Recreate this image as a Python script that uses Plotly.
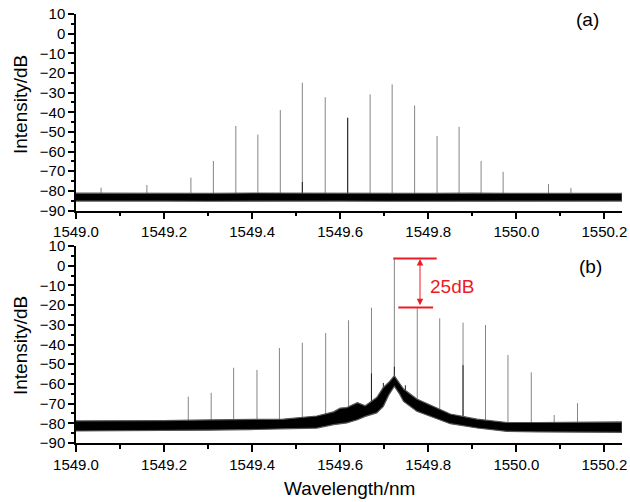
import numpy as np
import plotly.graph_objects as go

# ---------------- data ----------------
# Panel (a): comb lines
peak_wl_a = [1549.057, 1549.161, 1549.261, 1549.312, 1549.363, 1549.413, 1549.464,
             1549.514, 1549.566, 1549.617, 1549.668, 1549.718, 1549.769, 1549.820,
             1549.870, 1549.920, 1549.970, 1550.073, 1550.124]
peak_db_a = [-78.4, -77.0, -73.3, -64.8, -47.0, -51.4, -38.9,
             -25.0, -32.4, -42.8, -30.9, -25.8, -36.5, -52.1,
             -47.4, -64.8, -70.3, -76.5, -78.5]
dark_wl_a = [1549.514, 1549.617]
dark_db_a = [-75.5, -42.8]
# Panel (a): noise floor envelope
floor_wl_a = [1549.00, 1549.10, 1549.20, 1549.30, 1549.40, 1549.50, 1549.60,
              1549.70, 1549.80, 1549.90, 1550.00, 1550.10, 1550.24]
floor_up_a = [-81.2, -81.3, -81.2, -81.3, -81.1, -81.2, -81.1,
              -81.2, -81.3, -81.2, -81.3, -81.2, -81.3]
floor_lo_a = [-85.2, -85.3, -85.2, -85.3, -85.2, -85.3, -85.2,
              -85.3, -85.2, -85.3, -85.2, -85.3, -85.2]

# Panel (b): comb lines
peak_wl_b = [1549.255, 1549.307, 1549.358, 1549.411, 1549.462, 1549.514, 1549.567,
             1549.619, 1549.671, 1549.723, 1549.775, 1549.826, 1549.879, 1549.930,
             1549.981, 1550.034, 1550.086, 1550.139]
peak_db_b = [-66.5, -64.5, -51.8, -52.9, -41.8, -39.1, -34.2,
             -27.7, -21.3, 3.7, -21.6, -26.7, -28.9, -30.1,
             -45.3, -54.1, -75.8, -69.8]
dark_wl_b = [1549.671, 1549.698, 1549.723, 1549.748, 1549.879]
dark_db_b = [-54.7, -59.5, -51.3, -60.7, -50.5]
# Panel (b): noise floor with pedestal
floor_wl_b = [1549.00, 1549.10, 1549.20, 1549.30, 1549.395, 1549.471, 1549.547,
              1549.585, 1549.600, 1549.615, 1549.639, 1549.657, 1549.683, 1549.698,
              1549.710, 1549.723, 1549.735, 1549.744, 1549.774, 1549.790, 1549.805,
              1549.850, 1549.911, 1549.979, 1550.05, 1550.15, 1550.24]
floor_up_b = [-78.8, -78.8, -78.6, -78.3, -77.9, -77.9, -76.3,
              -74.2, -72.3, -72.0, -69.5, -71.1, -66.9, -61.8,
              -59.3, -55.9, -59.8, -62.6, -67.7, -69.3, -71.1,
              -75.3, -77.9, -79.6, -79.6, -79.6, -79.3]
floor_lo_b = [-83.9, -84.0, -83.7, -83.5, -83.2, -82.9, -82.4,
              -80.7, -80.3, -79.8, -78.2, -76.5, -74.7, -71.4,
              -65.7, -61.2, -65.2, -68.9, -73.9, -75.2, -76.5,
              -80.2, -82.4, -84.1, -84.4, -84.6, -84.6]

# annotation values (panel b)
top_level_db = 3.7
low_level_db = -21.2
top_line_wl = [1549.7206, 1549.8192]
low_line_wl = [1549.732, 1549.811]
arrow_wl = 1549.7813
diff_label = "25dB"

x_ticks = [1549.0, 1549.2, 1549.4, 1549.6, 1549.8, 1550.0, 1550.2]
x_tick_text = ["1549.0", "1549.2", "1549.4", "1549.6", "1549.8", "1550.0", "1550.2"]
y_ticks = [10, 0, -10, -20, -30, -40, -50, -60, -70, -80, -90]

# ---------------- figure ----------------
FONT = "Liberation Sans, Arial, sans-serif"
RED = "rgb(236,28,36)"
W, H = 630, 502


def stems(wls, dbs, fwl, flo):
    xs, ys = [], []
    for w, d in zip(wls, dbs):
        base = float(np.interp(w, fwl, flo)) + 1.0
        xs += [w, w, None]
        ys += [base, d, None]
    return xs, ys


fig = go.Figure()

for wl, db, dwl, ddb, fwl, fup, flo, xa, ya in [
    (peak_wl_a, peak_db_a, dark_wl_a, dark_db_a, floor_wl_a, floor_up_a, floor_lo_a, "x", "y"),
    (peak_wl_b, peak_db_b, dark_wl_b, dark_db_b, floor_wl_b, floor_up_b, floor_lo_b, "x2", "y2"),
]:
    sx, sy = stems(wl, db, fwl, flo)
    fig.add_trace(go.Scatter(x=sx, y=sy, mode="lines", xaxis=xa, yaxis=ya,
                             line=dict(color="#858585", width=1), hoverinfo="skip",
                             showlegend=False))
    dx, dy = stems(dwl, ddb, fwl, flo)
    fig.add_trace(go.Scatter(x=dx, y=dy, mode="lines", xaxis=xa, yaxis=ya,
                             line=dict(color="#202020", width=1), hoverinfo="skip",
                             showlegend=False))
    fig.add_trace(go.Scatter(x=fwl + fwl[::-1], y=fup + flo[::-1], mode="lines",
                             fill="toself", fillcolor="#000000", xaxis=xa, yaxis=ya,
                             line=dict(color="#555555", width=1.2), hoverinfo="skip",
                             showlegend=False))

x_dom = [76 / W, 622 / W]
xcommon = dict(range=[1549.0, 1550.24], tickmode="array", tickvals=x_ticks,
               ticktext=x_tick_text, ticks="outside", ticklen=7, tickwidth=1.5,
               tickcolor="black", showline=True, linewidth=1.5, linecolor="black",
               showgrid=False, zeroline=False, automargin=False,
               tickfont=dict(family=FONT, size=15, color="black"),
               minor=dict(ticks="outside", ticklen=4, tickwidth=1.5, tickcolor="black",
                          tick0=1549.0, dtick=0.1, showgrid=False))
ycommon = dict(range=[-90, 10], tickmode="array", tickvals=y_ticks,
               ticks="outside", ticklen=6, tickwidth=1.5, tickcolor="black",
               showline=True, linewidth=1.5, linecolor="black", showgrid=False,
               zeroline=False, automargin=False,
               tickfont=dict(family=FONT, size=15, color="black"),
               minor=dict(ticks="outside", ticklen=3.5, tickwidth=1.5, tickcolor="black",
                          tick0=-90, dtick=5, showgrid=False))

fig.update_layout(
    width=W, height=H, margin=dict(l=0, r=0, t=0, b=0), autosize=False,
    paper_bgcolor="white", plot_bgcolor="white", template="none",
    showlegend=False,
    xaxis=dict(domain=x_dom, anchor="y", **xcommon),
    xaxis2=dict(domain=x_dom, anchor="y2", **xcommon),
    yaxis=dict(domain=[(H - 210.5) / H, (H - 14) / H], anchor="x", **ycommon),
    yaxis2=dict(domain=[(H - 443) / H, (H - 246) / H], anchor="x2", **ycommon),
)

# red level markers
for wls, lvl in [(top_line_wl, top_level_db), (low_line_wl, low_level_db)]:
    fig.add_shape(type="line", xref="x2", yref="y2", x0=wls[0], x1=wls[1],
                  y0=lvl, y1=lvl, line=dict(color=RED, width=2))

fig.add_annotation(xref="x2", yref="y2", axref="x2", ayref="y2",
                   x=arrow_wl, y=top_level_db - 0.3, ax=arrow_wl, ay=low_level_db + 0.3,
                   text="", showarrow=True, arrowside="end+start", arrowhead=2,
                   startarrowhead=2, arrowsize=1.3, startarrowsize=1.3, arrowwidth=1,
                   arrowcolor=RED, standoff=0, startstandoff=0)
fig.add_annotation(xref="x2", yref="y2", x=1549.8535, y=-10.5, text=diff_label,
                   xanchor="center", yanchor="middle",
                   showarrow=False, font=dict(family=FONT, size=19, color=RED))

# panel labels and titles
fig.add_annotation(xref="paper", yref="paper", x=587.5 / W, y=(H - 20) / H, text="(a)",
                   xanchor="center", yanchor="middle",
                   showarrow=False, font=dict(family=FONT, size=19, color="black"))
fig.add_annotation(xref="paper", yref="paper", x=590.5 / W, y=(H - 266.7) / H, text="(b)",
                   xanchor="center", yanchor="middle",
                   showarrow=False, font=dict(family=FONT, size=19, color="black"))
for yc in [105, 346]:
    fig.add_annotation(xref="paper", yref="paper", x=20 / W, y=(H - yc) / H,
                       text="Intensity/dB", textangle=-90, showarrow=False,
                       xanchor="center", yanchor="middle",
                       font=dict(family=FONT, size=19, color="black"))
fig.add_annotation(xref="paper", yref="paper", x=349 / W, y=(H - 488) / H,
                   text="Wavelength/nm", showarrow=False,
                   xanchor="center", yanchor="middle",
                   font=dict(family=FONT, size=19, color="black"))

fig.write_html(
    "out.html",
    config={"displayModeBar": False},
    post_script="document.body.style.margin='0';document.body.style.overflow='hidden';",
)
